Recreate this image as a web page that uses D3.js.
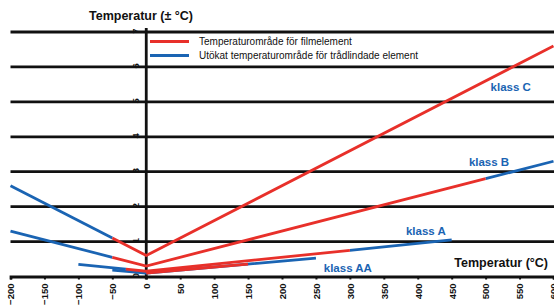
<html>
  <head>
    <meta charset="utf-8">
    <title>Temperaturtolerans</title>
  </head>
<style>
  body { margin: 0; background: #fff; }
  text { font-family: "Liberation Sans", Arial, sans-serif; }
</style>
  <body>
    <script src="https://d3js.org/d3.v7.min.js" charset="utf-8"></script>
    <script>

    var width = 554,
        height = 307;

    // tick values
    var xTicks = [-200,-150,-100,-50,0,50,100,150,200,250,300,350,400,450,500,550,600];
    var yTicks = [0,1,2,3,4,5,6,7];

    // tolerance lines, [temperatur, tolerans]; blue = wire wound, red = film
    var classC_wire = [[-200,2.6],[-50,1.1]];
    var classC_film = [[-50,1.1],[0,0.6],[600,6.6]];
    var classB_wire = [[-200,1.3],[-50,0.55]];
    var classB_wire2 = [[500,2.8],[600,3.3]];
    var classB_film = [[-50,0.55],[0,0.3],[500,2.8]];
    var classA_wire = [[-100,0.35],[-30,0.21]];
    var classA_wire2 = [[300,0.75],[450,1.05]];
    var classA_film = [[-30,0.21],[0,0.15],[300,0.75]];
    var classAA_wire = [[-50,0.185],[0,0.1],[250,0.525]];
    var classAA_film = [[0,0.1],[150,0.355]];

    var blueSeries = [classC_wire, classB_wire, classB_wire2, classA_wire, classA_wire2, classAA_wire];
    var redSeries = [classC_film, classB_film, classA_film, classAA_film];

    // class labels: [text, temperatur, tolerans]
    var classLabels = [["klass C",537,5.42],["klass B",505,3.28],["klass A",412,1.31],["klass AA",297,0.25]];

    var legendItems = [["Temperaturområde för filmelement","#e8302a"],
                       ["Utökat temperaturområde för trådlindade element","#1a64b3"]];

    var red = "#e8302a", blue = "#1a64b3";

    var svg = d3.select("body").append("svg")
                .attr("width",width).attr("height",height);

    var x = d3.scaleLinear().domain([-200,600]).range([10.5,553.5]);
    var y = d3.scaleLinear().domain([0,7]).range([276.5,32]);

    // horizontal grid lines
    svg.append("g").selectAll("line").data(yTicks.slice(1)).enter().append("line")
       .attr("x1",x(-200)).attr("x2",width)
       .attr("y1",function(d){ return y(d);}).attr("y2",function(d){ return y(d);})
       .attr("stroke","#111").attr("stroke-width",2.8);

    // x axis
    var xAxis = d3.axisBottom(x).tickValues(xTicks).tickSize(3).tickFormat(d3.format("d"));
    var gx = svg.append("g").attr("transform","translate(0,"+y(0)+")").call(xAxis);
    gx.select(".domain").attr("stroke","#111").attr("stroke-width",2.8);
    gx.selectAll(".tick line").attr("stroke","#111").attr("stroke-width",2);
    gx.selectAll(".tick text")
      .attr("transform","rotate(-90)")
      .attr("x",-7).attr("y",0).attr("dy","0.35em")
      .attr("text-anchor","end")
      .attr("font-size",9.5).attr("font-weight","bold").attr("fill","#111");

    // y axis at 0 °C
    svg.append("line").attr("x1",x(0)).attr("x2",x(0))
       .attr("y1",y(7)-4).attr("y2",y(0)+3)
       .attr("stroke","#111").attr("stroke-width",2.8);
    svg.append("g").selectAll("text").data(yTicks).enter().append("text")
       .attr("transform",function(d){ return "translate("+(x(0)-11)+","+(y(d)-1)+") rotate(-90)";})
       .attr("text-anchor","middle").attr("dy","0.35em")
       .attr("font-size",9.5).attr("font-weight","bold").attr("fill","#111")
       .text(function(d){ return d;});

    var line = d3.line().x(function(d){ return x(d[0]);}).y(function(d){ return y(d[1]);});

    svg.append("g").selectAll("path").data(blueSeries).enter().append("path")
       .attr("d",line).attr("fill","none").attr("stroke",blue).attr("stroke-width",2.8);
    svg.append("g").selectAll("path").data(redSeries).enter().append("path")
       .attr("d",line).attr("fill","none").attr("stroke",red).attr("stroke-width",2.8);

    // class labels
    svg.append("g").selectAll("text").data(classLabels).enter().append("text")
       .attr("x",function(d){ return x(d[1]);}).attr("y",function(d){ return y(d[2]);})
       .attr("dy","0.35em").attr("text-anchor","middle")
       .attr("font-size",11.5).attr("font-weight","bold").attr("fill",blue)
       .text(function(d){ return d[0];});

    // legend
    var lg = svg.append("g").selectAll("g").data(legendItems).enter().append("g")
       .attr("transform",function(d,i){ return "translate(150,"+(41.5+i*14)+")";});
    lg.append("line").attr("x1",0).attr("x2",39)
       .attr("stroke",function(d){ return d[1];}).attr("stroke-width",2.8);
    lg.append("text").attr("x",49).attr("dy","0.35em")
       .attr("font-size",10).attr("fill","#111")
       .text(function(d){ return d[0];});

    // titles
    svg.append("text").attr("x",141).attr("y",20).attr("text-anchor","middle")
       .attr("font-size",12.5).attr("font-weight","bold").attr("fill","#111")
       .text("Temperatur (± °C)");
    svg.append("text").attr("x",548).attr("y",267).attr("text-anchor","end")
       .attr("font-size",12.5).attr("font-weight","bold").attr("fill","#111")
       .text("Temperatur (°C)");

    </script>
  </body>
</html>
